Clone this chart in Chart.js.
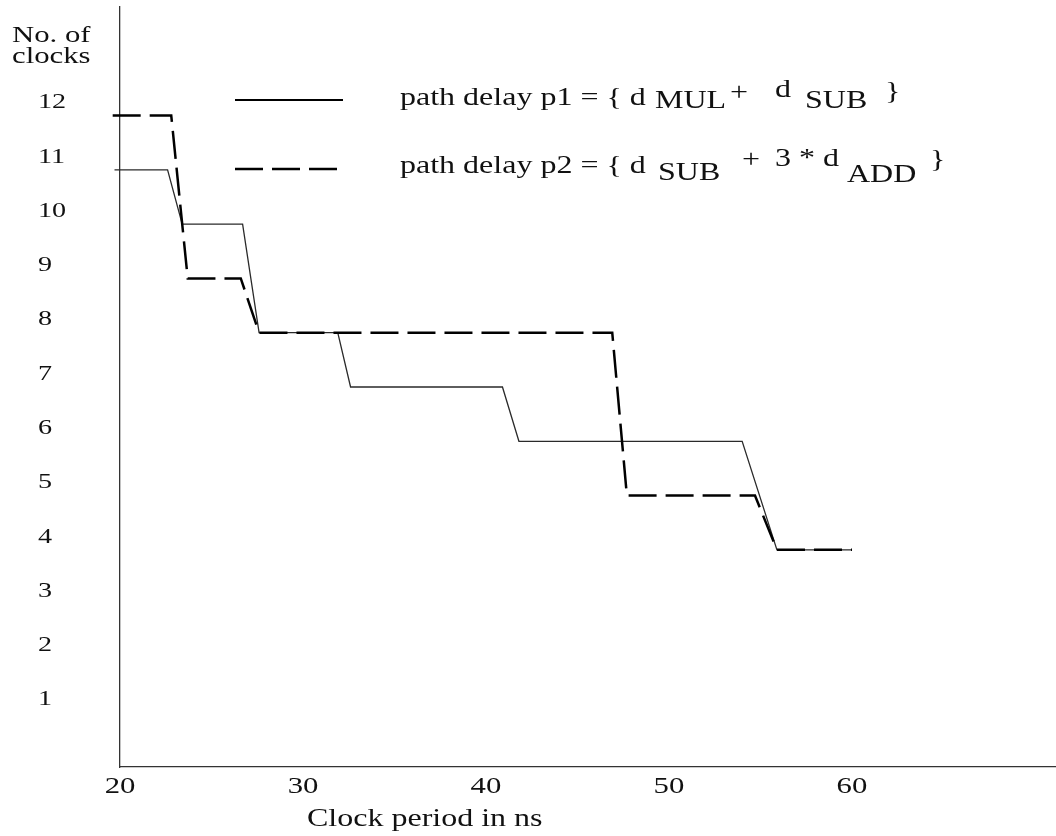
<!DOCTYPE html>
<html>
<head>
<meta charset="utf-8">
<script src="https://cdn.jsdelivr.net/npm/chart.js@4.4.1/dist/chart.umd.min.js"></script>
<style>
  html, body { margin: 0; padding: 0; background: #fff; }
  canvas { display: block; }
</style>
</head>
<body>
<canvas id="clocksChart" width="1056" height="836"></canvas>
<script>
// clock period (ns) vs number of clocks
const p1Period = [19.7, 22.6, 23.4, 26.7, 27.6, 31.9, 32.6, 40.9, 41.8, 54.0, 55.9, 60];
const p1Clocks = [11, 11, 10, 10, 8, 8, 7, 7, 6, 6, 4, 4];
const p2Period = [19.6, 22.8, 23.7, 26.6, 27.6, 46.9, 47.7, 54.7, 55.9, 60];
const p2Clocks = [12, 12, 9, 9, 8, 8, 5, 5, 4, 4];

const xTicks = [20, 30, 40, 50, 60];
const yTicks = [1, 2, 3, 4, 5, 6, 7, 8, 9, 10, 11, 12];

const yTitle = ["No. of", "clocks"];
const xTitle = "Clock period in ns";

const FONT = "Liberation Serif, Times New Roman, serif";
const SX = 1.28; // the original lettering is stretched sideways

function toPoints(xs, ys) {
  return xs.map((x, i) => ({ x: x, y: ys[i] }));
}

function drawText(ctx, text, x, y, size, align, baseline) {
  ctx.save();
  ctx.translate(x, y);
  ctx.scale(SX, 1);
  ctx.font = size + "px " + FONT;
  ctx.fillStyle = "#111";
  ctx.textAlign = align || "left";
  ctx.textBaseline = baseline || "alphabetic";
  ctx.fillText(text, 0, 0);
  ctx.restore();
}

function legendLine(ctx, y, dash, width) {
  ctx.save();
  ctx.strokeStyle = "#000";
  ctx.lineWidth = width;
  ctx.setLineDash(dash);
  ctx.beginPath();
  ctx.moveTo(235, y);
  ctx.lineTo(343, y);
  ctx.stroke();
  ctx.restore();
}

const lettering = {
  id: "lettering",
  afterDraw(chart) {
    const ctx = chart.ctx;
    const xs = chart.scales.x;
    const ys = chart.scales.y;

    // tick labels, placed from the scales' own ticks
    xs.ticks.forEach((t) => {
      drawText(ctx, String(t.value), xs.getPixelForValue(t.value), 793, 24, "center");
    });
    ys.ticks.forEach((t) => {
      drawText(ctx, String(t.value), 38, ys.getPixelForValue(t.value) - 13, 22, "left", "middle");
    });

    // axis titles
    drawText(ctx, yTitle[0], 12, 42, 24);
    drawText(ctx, yTitle[1], 12, 63, 24);
    drawText(ctx, xTitle, 307, 826, 25);

    // legend
    legendLine(ctx, 100, [], 2);
    legendLine(ctx, 169, [28, 9], 2.5);

    drawText(ctx, "path delay p1 = { d", 400, 105, 25);
    drawText(ctx, "MUL", 655, 108, 25);
    drawText(ctx, "+", 730, 100, 25);
    drawText(ctx, "d", 775, 97, 25);
    drawText(ctx, "SUB", 805, 108, 25);
    drawText(ctx, "}", 885, 99, 25);

    drawText(ctx, "path delay p2 = { d", 400, 173, 25);
    drawText(ctx, "SUB", 658, 180, 25);
    drawText(ctx, "+", 742, 167, 25);
    drawText(ctx, "3 * d", 775, 166, 25);
    drawText(ctx, "ADD", 847, 182, 25);
    drawText(ctx, "}", 930, 167, 25);
  }
};

const chartCanvas = document.getElementById("clocksChart");

new Chart(chartCanvas, {
  type: "line",
  data: {
    datasets: [
      {
        label: "path delay p2",
        data: toPoints(p2Period, p2Clocks),
        borderColor: "#000",
        borderWidth: 2.5,
        borderDash: [28, 9],
        pointRadius: 0,
        tension: 0,
        fill: false,
        clip: false
      },
      {
        label: "path delay p1",
        data: toPoints(p1Period, p1Clocks),
        borderColor: "#2a2a2a",
        borderWidth: 1.3,
        pointRadius: 0,
        tension: 0,
        fill: false,
        clip: false
      }
    ]
  },
  options: {
    responsive: false,
    animation: false,
    devicePixelRatio: 1,
    layout: { padding: { top: 7, left: 0, right: 0, bottom: 0 } },
    plugins: {
      legend: { display: false },
      tooltip: { enabled: false }
    },
    scales: {
      x: {
        type: "linear",
        min: 20,
        max: 71.15,
        grid: { display: false },
        border: { color: "#333", width: 1.3 },
        ticks: { display: false },
        afterBuildTicks: (scale) => {
          scale.ticks = xTicks.map((v) => ({ value: v }));
        },
        afterFit: (scale) => {
          scale.height = 69;
        }
      },
      y: {
        type: "linear",
        min: 0,
        max: 14,
        grid: { display: false },
        border: { color: "#333", width: 1.3 },
        ticks: { display: false },
        afterBuildTicks: (scale) => {
          scale.ticks = yTicks.map((v) => ({ value: v }));
        },
        afterFit: (scale) => {
          scale.width = 120;
        }
      }
    }
  },
  plugins: [lettering]
});
</script>
</body>
</html>
